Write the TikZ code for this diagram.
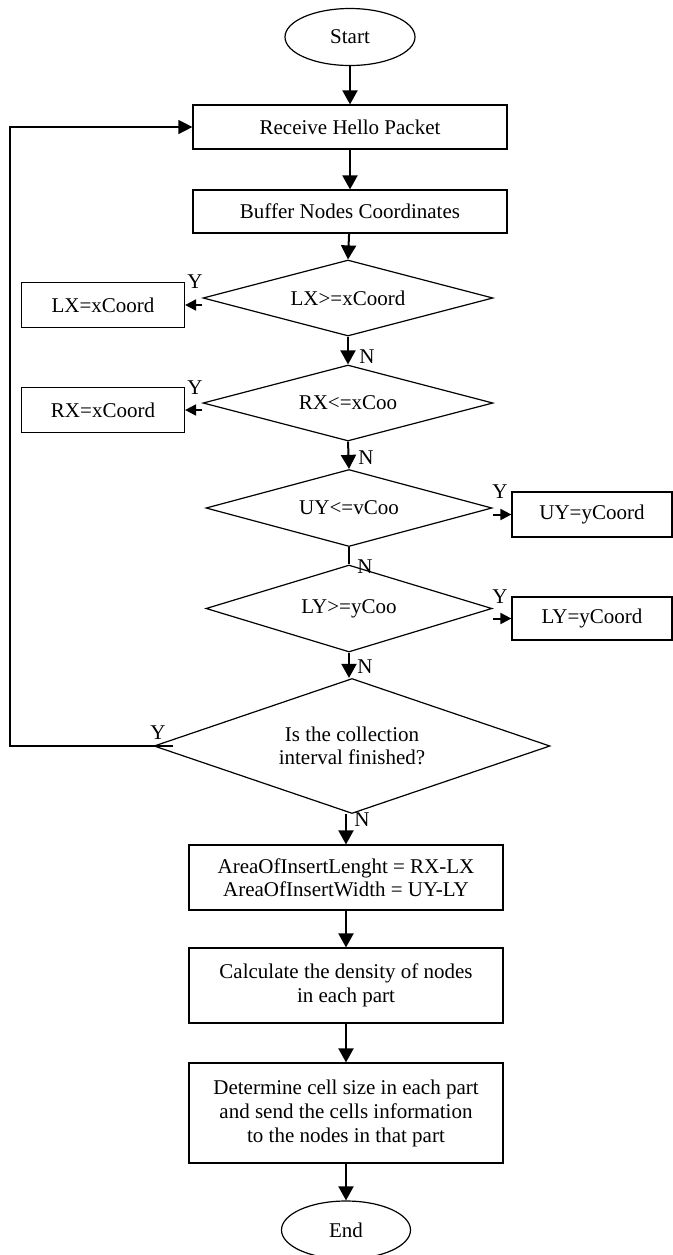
\documentclass[tikz,border=0pt]{standalone}
\usepackage{fontspec}
\setmainfont{Liberation Serif}
\usepackage{tikz}
\usetikzlibrary{shapes.geometric, arrows.meta, positioning, calc}

\begin{document}
\begin{tikzpicture}[x=0.5pt, y=-0.5pt,
  txt/.style={font=\fontsize{10.5}{11.5}\selectfont},
  proc/.style={txt, draw, line width=0.6pt, rectangle, inner sep=0pt, align=center},
  term/.style={txt, draw, line width=0.6pt, ellipse, inner sep=0pt},
  decision/.style={txt, draw, line width=0.6pt, diamond, shape aspect=3.5, inner sep=0pt, align=center},
  arr/.style={line width=1pt, -{Triangle[length=7pt,width=7.5pt]}},
  sidearr/.style={line width=1pt, -{Triangle[length=5.5pt,width=5.5pt]}},
  lbl/.style={txt, inner sep=0pt}]
\useasboundingbox (0,0) rectangle (673,1255);

% Main column
\node[term, minimum width=65pt, minimum height=28.5pt] (start) at (350,37) {Start};
\node[proc, minimum width=157pt, minimum height=22pt] (recv) at (350,127) {Receive Hello Packet};
\node[proc, minimum width=157pt, minimum height=21.5pt] (buf) at (350,211.5) {Buffer Nodes Coordinates};

% Bounds checks
\node[decision, minimum width=145pt, minimum height=38pt] (dlx) at (348,298) {LX>=xCoord};
\node[proc, minimum width=81.5pt, minimum height=22.5pt] (lx) at (103,305) {LX=xCoord};
\node[decision, minimum width=145pt, minimum height=38pt] (drx) at (348,403) {RX<=xCoo};
\node[proc, minimum width=81.5pt, minimum height=22.5pt] (rx) at (103,410) {RX=xCoord};
\node[decision, minimum width=143pt, minimum height=38.5pt] (duy) at (349,508) {UY<=vCoo};
\node[proc, minimum width=80pt, minimum height=22.5pt] (uy) at (592,514.5) {UY=yCoord};
\node[decision, minimum width=143pt, minimum height=43.5pt] (dly) at (349,608.5) {LY>=yCoo};
\node[proc, minimum width=80pt, minimum height=21.5pt] (ly) at (592,618.5) {LY=yCoord};

% Interval check
\node[decision, shape aspect=2.9, minimum width=198pt, minimum height=67.5pt] (dint) at (352,746) {Is the collection\\interval finished?};

% Results
\node[proc, minimum width=157pt, minimum height=32.5pt] (area) at (346,877.5) {AreaOfInsertLenght = RX-LX\\AreaOfInsertWidth = UY-LY};
\node[proc, minimum width=157pt, minimum height=37.5pt, font=\fontsize{10.5}{12}\selectfont] (dens) at (346,985.5) {Calculate the density of nodes\\in each part};
\node[proc, minimum width=157pt, minimum height=50pt, font=\fontsize{10.5}{12}\selectfont] (cell) at (346,1113) {Determine cell size in each part\\and send the cells information\\to the nodes in that part};
\node[term, minimum width=64.5pt, minimum height=29pt] (end) at (346,1230) {End};

% Connectors
\draw[arr] (start) -- (recv);
\draw[arr] (recv) -- (buf);
\draw[arr] (buf) -- (dlx.north);
\draw[sidearr] (dlx.west |- lx.east) -- (lx.east);
\draw[arr] (dlx.south) -- (drx.north);
\draw[sidearr] (drx.west |- rx.east) -- (rx.east);
\draw[arr] (drx.south) -- (duy.north);
\draw[sidearr] (duy.east |- uy.west) -- (uy.west);
\draw[line width=1pt] (duy.south) -- (dly.north);
\draw[sidearr] (dly.east |- ly.west) -- (ly.west);
\draw[arr] (dly.south) -- (dint.north -| dly.south);
\coordinate (lp) at (10,127);
\draw[line width=0.7pt, -{Triangle[length=7pt,width=7pt]}] ($(dint.west)+(20,0)$) -| (lp) |- (recv.west);
\draw[arr] (dint.south -| area.north) -- (area.north);
\draw[arr] (area) -- (dens);
\draw[arr] (dens) -- (cell);
\draw[arr] (cell) -- (end);

% Y / N labels
\node[lbl] (y1) at (195,282) {Y};
\node[lbl] (y2) at (195,388) {Y};
\node[lbl] (y3) at (500,492) {Y};
\node[lbl] (y4) at (500,597) {Y};
\node[lbl] (y5) at (158,733) {Y};
\node[lbl] (n1) at (367,357) {N};
\node[lbl] (n2) at (366,458) {N};
\node[lbl] (n3) at (365,567) {N};
\node[lbl] (n4) at (365,667) {N};
\node[lbl] (n5) at (362,820) {N};
\end{tikzpicture}
\end{document}
